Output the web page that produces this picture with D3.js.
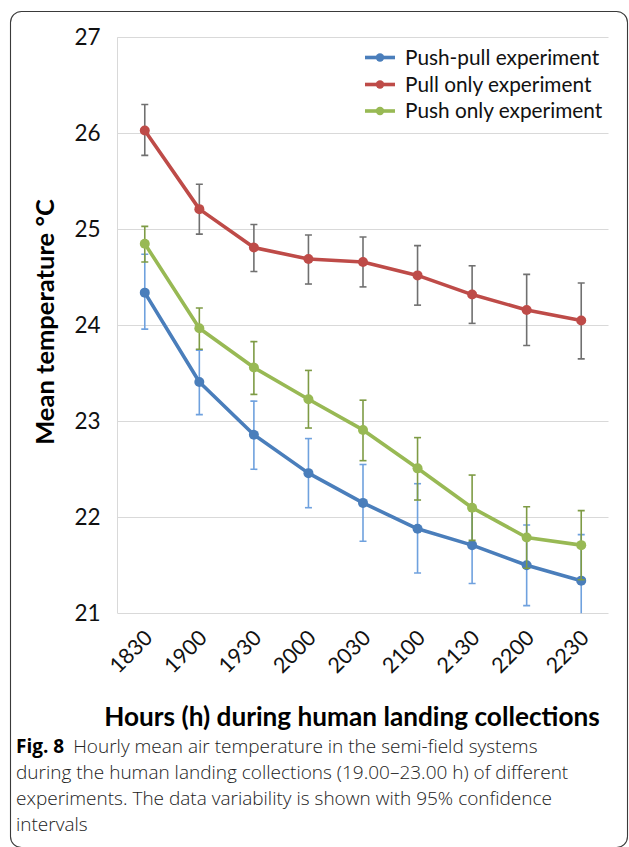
<!DOCTYPE html>
<html>
<head>
<meta charset="utf-8">
<script src="https://cdn.jsdelivr.net/npm/d3@7"></script>
<style>
  html, body { margin: 0; padding: 0; background: #fff; }
  svg { display: block; }
</style>
</head>
<body>
<svg id="chart" width="629" height="847"></svg>
<script>
// ---- data ----
const hours = ["1830", "1900", "1930", "2000", "2030", "2100", "2130", "2200", "2230"];
const seriesNames = ["Push-pull experiment", "Pull only experiment", "Push only experiment"];
const yTicks = [21, 22, 23, 24, 25, 26, 27];

const pushPull   = [24.34, 23.41, 22.86, 22.46, 22.15, 21.88, 21.71, 21.50, 21.34];
const pushPullLo = [23.96, 23.07, 22.50, 22.10, 21.75, 21.42, 21.31, 21.08, 20.86];
const pushPullHi = [24.74, 23.74, 23.21, 22.82, 22.55, 22.35, 22.11, 21.92, 21.82];

const pullOnly   = [26.03, 25.21, 24.81, 24.69, 24.66, 24.52, 24.32, 24.16, 24.05];
const pullOnlyLo = [25.77, 24.95, 24.56, 24.43, 24.40, 24.21, 24.02, 23.79, 23.65];
const pullOnlyHi = [26.30, 25.47, 25.05, 24.94, 24.92, 24.83, 24.62, 24.53, 24.44];

const pushOnly   = [24.85, 23.97, 23.56, 23.23, 22.91, 22.51, 22.10, 21.79, 21.71];
const pushOnlyLo = [24.66, 23.75, 23.28, 22.93, 22.59, 22.18, 21.76, 21.47, 21.35];
const pushOnlyHi = [25.03, 24.18, 23.83, 23.53, 23.22, 22.83, 22.44, 22.11, 22.07];

const captionBold = "Fig. 8";
const captionLines = [
  "Hourly mean air temperature in the semi-field systems",
  "during the human landing collections (19.00\u201323.00 h) of different",
  "experiments. The data variability is shown with 95% confidence",
  "intervals"
];

// ---- styling ----
const lineColors = ["#4a7ebb", "#be4b48", "#98b954"];
const errColors  = ["#6fa1de", "#707070", "#7e9b45"];
const chartFont = "Lato, 'Open Sans', sans-serif";

const svg = d3.select("#chart");

// outer frame
svg.append("rect")
  .attr("x", 10.5).attr("y", 11.5).attr("width", 617).attr("height", 836)
  .attr("rx", 11).attr("ry", 11)
  .attr("fill", "none").attr("stroke", "#3a3a3a").attr("stroke-width", 1.1);

const plot = { left: 117.5, right: 608.5, top: 37.3, bottom: 613.3 };

const x = d3.scaleBand().domain(hours).range([plot.left, plot.right]);
const xc = d => x(d) + x.bandwidth() / 2;
const y = d3.scaleLinear().domain([21, 27]).range([plot.bottom, plot.top]);

// gridlines
svg.append("g")
  .selectAll("line").data(yTicks).join("line")
  .attr("x1", plot.left).attr("x2", plot.right)
  .attr("y1", d => Math.round(y(d)) + 0.5).attr("y2", d => Math.round(y(d)) + 0.5)
  .attr("stroke", "#d9d9d9").attr("stroke-width", 1);

// left axis line
svg.append("line")
  .attr("x1", plot.left).attr("x2", plot.left)
  .attr("y1", plot.top).attr("y2", plot.bottom)
  .attr("stroke", "#d9d9d9").attr("stroke-width", 1);

// y axis labels
const yAxis = d3.axisLeft(y).tickValues(yTicks).tickSize(0).tickPadding(17).tickFormat(d3.format("d"));
const gy = svg.append("g").attr("transform", `translate(${plot.left},0)`).call(yAxis);
gy.select(".domain").remove();
gy.selectAll("text")
  .attr("font-family", chartFont).attr("font-size", 22.5).attr("fill", "#111");

// x axis labels (rotated)
const xAxis = d3.axisBottom(x).tickSize(0).tickPadding(0);
const gx = svg.append("g").attr("transform", `translate(0,${plot.bottom})`).call(xAxis);
gx.select(".domain").remove();
gx.selectAll("text")
  .attr("font-family", chartFont).attr("font-size", 21.5).attr("fill", "#111")
  .attr("text-anchor", "end")
  .attr("dy", 0)
  .attr("transform", "translate(9,26) rotate(-45)");

// clip for series
svg.append("clipPath").attr("id", "plotclip")
  .append("rect").attr("x", plot.left).attr("y", plot.top)
  .attr("width", plot.right - plot.left).attr("height", plot.bottom - plot.top);

const series = [
  { name: seriesNames[0], v: pushPull, lo: pushPullLo, hi: pushPullHi },
  { name: seriesNames[1], v: pullOnly, lo: pullOnlyLo, hi: pullOnlyHi },
  { name: seriesNames[2], v: pushOnly, lo: pushOnlyLo, hi: pushOnlyHi }
];

const gS = svg.append("g").attr("clip-path", "url(#plotclip)");
const line = d3.line().x((d, i) => xc(hours[i])).y(d => y(d));

series.forEach((s, si) => {
  const g = gS.append("g");
  const eb = g.append("g").attr("stroke", errColors[si]).attr("stroke-width", 1.6);
  hours.forEach((h, i) => {
    const cx = xc(h);
    eb.append("line").attr("x1", cx).attr("x2", cx).attr("y1", y(s.lo[i])).attr("y2", y(s.hi[i]));
    eb.append("line").attr("x1", cx - 3.5).attr("x2", cx + 3.5).attr("y1", y(s.lo[i])).attr("y2", y(s.lo[i]));
    eb.append("line").attr("x1", cx - 3.5).attr("x2", cx + 3.5).attr("y1", y(s.hi[i])).attr("y2", y(s.hi[i]));
  });
  g.append("path").datum(s.v).attr("d", line)
    .attr("fill", "none").attr("stroke", lineColors[si]).attr("stroke-width", 3.6)
    .attr("stroke-linejoin", "round");
  g.selectAll("circle").data(s.v).join("circle")
    .attr("cx", (d, i) => xc(hours[i])).attr("cy", d => y(d)).attr("r", 5)
    .attr("fill", lineColors[si]);
});

// legend
const legend = svg.append("g");
const legY = [57.5, 84.5, 111];
series.forEach((s, si) => {
  const gl = legend.append("g").attr("transform", `translate(0,${legY[si]})`);
  gl.append("line").attr("x1", 365).attr("x2", 395).attr("y1", 0).attr("y2", 0)
    .attr("stroke", lineColors[si]).attr("stroke-width", 3.6);
  gl.append("circle").attr("cx", 380).attr("cy", 0).attr("r", 4.2).attr("fill", lineColors[si]);
  gl.append("text").attr("x", 405).attr("y", 0).attr("dy", "0.35em")
    .attr("font-family", chartFont).attr("font-size", 20.8).attr("fill", "#111")
    .text(s.name);
});

// axis titles
svg.append("text")
  .attr("transform", "translate(54,322) rotate(-90)")
  .attr("text-anchor", "middle")
  .attr("font-family", chartFont).attr("font-weight", "bold").attr("font-size", 25.5).attr("fill", "#000")
  .text("Mean temperature \u00B0C");

svg.append("text")
  .attr("x", 352).attr("y", 726)
  .attr("text-anchor", "middle")
  .attr("font-family", chartFont).attr("font-weight", "bold").attr("font-size", 26.2).attr("fill", "#000")
  .text("Hours (h) during human landing collections");

// caption
const capFont = "'Open Sans', 'Noto Sans', sans-serif";
const capY = [753, 779, 805, 831];
const cap = svg.append("g").attr("font-family", capFont).attr("font-size", 19).attr("fill", "#222");
const t0 = cap.append("text").attr("x", 16).attr("y", capY[0]);
t0.append("tspan").attr("font-weight", "bold").attr("fill", "#000").text(captionBold);
t0.append("tspan").attr("dx", 9).attr("font-weight", 300).text(captionLines[0]);
captionLines.slice(1).forEach((l, i) => {
  cap.append("text").attr("x", 16).attr("y", capY[i + 1]).attr("font-weight", 300).text(l);
});
</script>
</body>
</html>
